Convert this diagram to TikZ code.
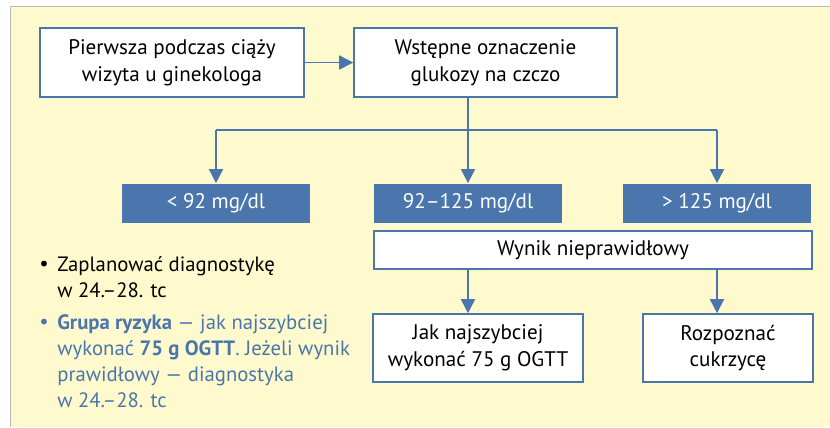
\documentclass[tikz,border=0pt]{standalone}
\usepackage{fontspec}
\setmainfont{PT Sans}
\usetikzlibrary{arrows.meta,positioning}

\definecolor{niebieski}{RGB}{74,118,173}
\definecolor{tlo}{RGB}{255,250,205}
\definecolor{ramka}{RGB}{185,185,185}

\tikzset{
  pole/.style={draw=niebieski, fill=white, line width=0.9pt, align=center, inner sep=0pt,
    font=\fontsize{12}{15.3}\selectfont},
  zakres/.style={fill=niebieski, text=white, inner sep=0pt, minimum width=3.76cm,
    minimum height=0.78cm, font=\fontsize{12}{15}\selectfont},
  strz/.style={draw=niebieski, line width=0.9pt, -{Triangle[length=8pt,width=8pt]}},
  linia/.style={draw=niebieski, line width=0.9pt},
  lista/.style={align=left, inner sep=0pt, font=\fontsize{11.8}{14.8}\selectfont}
}

\begin{document}
\begin{tikzpicture}[x=0.02cm, y=-0.02cm]
  \useasboundingbox (0,0) rectangle (830,427);

  % yellow background with gray frame
  \fill[tlo] (10,6) rectangle (830,427);
  \draw[ramka, line width=1pt] (10.5,427) -- (10.5,6.5) -- (830,6.5);

  % first row
  \node[pole, minimum width=5.28cm, minimum height=1.38cm] (wizyta) at (172,62.5)
    {Pierwsza podczas ciąży\\wizyta u ginekologa};
  \node[pole, minimum width=5.26cm, minimum height=1.38cm] (glukoza) at (485.5,62.5)
    {Wstępne oznaczenie\\glukozy na czczo};

  % glucose ranges
  \node[zakres] (niska) at (216,203) {< 92 mg/dl};
  \node[zakres] (srednia) at (468,203) {92–125 mg/dl};
  \node[zakres] (wysoka) at (717,203) {> 125 mg/dl};

  % abnormal result
  \node[pole, minimum width=8.76cm, minimum height=0.76cm] (nieprawidlowy) at (593,250)
    {Wynik nieprawidłowy};
  \node[pole, minimum width=4.2cm, minimum height=1.36cm] (ogtt) at (478,348)
    {Jak najszybciej\\wykonać 75 g OGTT};
  \node[pole, minimum width=3.4cm, minimum height=1.36cm] (cukrzyca) at (728,348)
    {Rozpoznać\\cukrzycę};

  % arrows
  \draw[strz] (wizyta) -- (glukoza);
  \coordinate (rozgalezienie) at (468,130);
  \draw[linia] (glukoza.south -| rozgalezienie) -- (rozgalezienie);
  \draw[linia] (rozgalezienie -| niska) -- (rozgalezienie -| wysoka);
  \draw[strz] (rozgalezienie -| niska) -- (niska);
  \draw[strz] (rozgalezienie) -- (srednia);
  \draw[strz] (rozgalezienie -| wysoka) -- (wysoka);
  \draw[strz] (nieprawidlowy.south -| srednia) -- (ogtt.north -| srednia);
  \draw[strz] (nieprawidlowy.south -| wysoka) -- (cukrzyca.north -| wysoka);

  % notes for the lowest range
  \node[lista] (kropka1) at (44,266) {\textbullet};
  \node[lista, anchor=north west] (plan) at (57,256)
    {Zaplanować diagnostykę\\w 24.–28. tc};
  \node[lista, text=niebieski] (kropka2) at (44,324) {\textbullet};
  \node[lista, text=niebieski, anchor=north west] (ryzyko) at (57,314)
    {\textbf{Grupa ryzyka} — jak najszybciej\\
     wykonać \textbf{75 g OGTT}. Jeżeli wynik\\
     prawidłowy — diagnostyka\\
     w 24.–28. tc};
\end{tikzpicture}
\end{document}
